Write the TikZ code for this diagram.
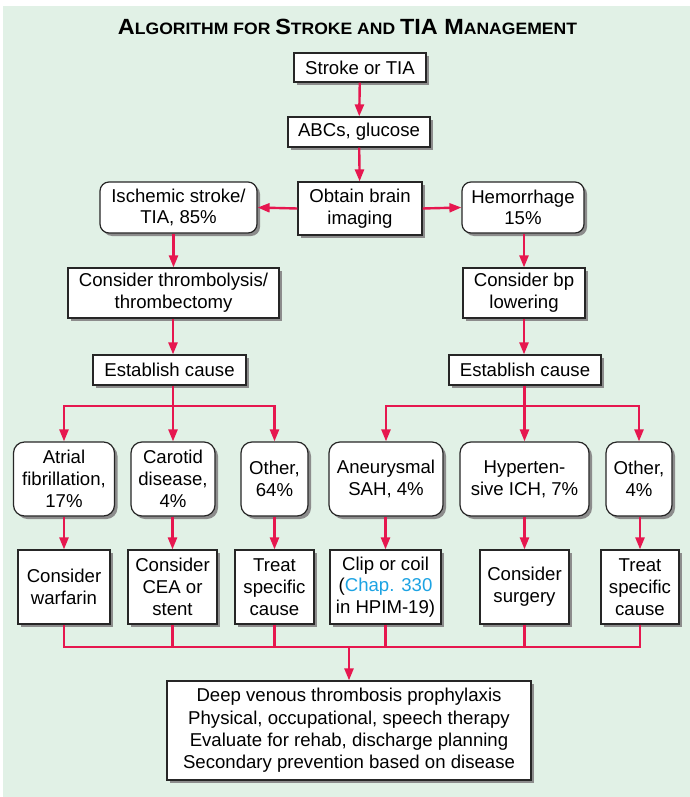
\documentclass[tikz,border=0pt]{standalone}
\usepackage{fontspec}
\setmainfont{Liberation Sans}
\usetikzlibrary{arrows.meta,shadows}
\definecolor{bg}{HTML}{E1F1E6}
\definecolor{arrred}{HTML}{E6174F}
\definecolor{chapblue}{HTML}{1CA3E3}
\tikzset{
  box/.style={draw=black!85, line width=1.2pt, fill=white, align=center, inner sep=0pt,
    font=\fontsize{18.6}{21.7}\selectfont,
    drop shadow={shadow xshift=3pt, shadow yshift=-3pt, fill=black!45, opacity=1}},
  rbox/.style={box, rounded corners=9pt},
  link/.style={draw=arrred, line width=2.4pt},
  arr/.style={link, -{Triangle[length=12pt,width=9pt]}},
}
\newcommand{\bigc}[1]{{\fontsize{22}{22}\selectfont #1}}
\newcommand{\smc}[1]{{\fontsize{16.5}{16.5}\selectfont #1}}
\begin{document}
\begin{tikzpicture}[x=1pt,y=-1pt]
\useasboundingbox (0,0) rectangle (690,797);
\fill[bg] (3,6) rectangle (690,797);
\node[anchor=base, inner sep=0pt, font=\bfseries] (title) at (347.5,35)
  {\resizebox{459pt}{\height}{\bigc{A}\smc{LGORITHM FOR }\bigc{S}\smc{TROKE AND }\bigc{TIA M}\smc{ANAGEMENT}}};

\node[box, minimum width=132pt, minimum height=29pt] (start) at (360,67.5) {Stroke or TIA};
\node[box, minimum width=142pt, minimum height=30pt] (abc) at (359,132) {ABCs, glucose};
\node[box, minimum width=124pt, minimum height=53pt] (img) at (360,208.5) {Obtain brain\\imaging};
\node[rbox, minimum width=157pt, minimum height=51pt] (isch) at (178.5,207.5) {Ischemic stroke/\\TIA, 85\%};
\node[rbox, minimum width=122pt, minimum height=51pt] (hem) at (523,207.5) {Hemorrhage\\15\%};
\node[box, minimum width=211pt, minimum height=50pt] (thr) at (173.5,293) {Consider thrombolysis/\\thrombectomy};
\node[box, minimum width=122pt, minimum height=50pt] (bp) at (524,293) {Consider bp\\lowering};
\node[box, minimum width=153pt, minimum height=30pt] (estL) at (169.5,370) {Establish cause};
\node[box, minimum width=152pt, minimum height=30pt] (estR) at (525,370) {Establish cause};

\tikzset{r1/.style={rbox, rounded corners=11pt, minimum height=74pt}, r2/.style={box, minimum height=74pt}}
\node[r1, minimum width=101pt] (a1) at (64,479) {Atrial\\fibrillation,\\17\%};
\node[r1, minimum width=84pt] (a2) at (173,479) {Carotid\\disease,\\4\%};
\node[r1, minimum width=67pt] (a3) at (274.5,479) {Other,\\64\%};
\node[r1, minimum width=114pt] (a4) at (386,479) {Aneurysmal\\SAH, 4\%};
\node[r1, minimum width=129pt] (a5) at (524.5,479) {Hyperten-\\sive ICH, 7\%};
\node[r1, minimum width=66pt] (a6) at (639,479) {Other,\\4\%};

\node[r2, minimum width=92pt] (b1) at (64,587) {Consider\\warfarin};
\node[r2, minimum width=89pt] (b2) at (172.5,587) {Consider\\CEA or\\stent};
\node[r2, minimum width=79pt] (b3) at (274.5,587) {Treat\\specific\\cause};
\node[r2, minimum width=111pt] (b4) at (385.5,587) {Clip or coil\\(\textcolor{chapblue}{Chap. 330}\\in HPIM-19)};
\node[r2, minimum width=89pt] (b5) at (524.5,587) {Consider\\surgery};
\node[r2, minimum width=78pt] (b6) at (640,587) {Treat\\specific\\cause};

\node[box, minimum width=364pt, minimum height=99pt, font=\fontsize{18.6}{22.3}\selectfont] (fin) at (349,730.5)
  {Deep venous thrombosis prophylaxis\\Physical, occupational, speech therapy\\Evaluate for rehab, discharge planning\\Secondary prevention based on disease};

% connectors
\draw[arr] (start) -- (abc);
\draw[arr] (abc) -- (img);
\draw[arr] (img.west) -- (isch.east);
\draw[arr] (img.east) -- (hem.west);
\draw[arr] (isch.south -| thr.north) -- (thr.north);
\draw[arr] (hem.south -| bp.north) -- (bp.north);
\draw[arr] (thr.south -| a2.north) -- (estL.north -| a2.north);
\draw[arr] (bp.south) -- (estR.north -| bp.south);

\coordinate (brL) at (173,406);
\coordinate (brR) at (524.5,406);
\draw[link] (estL.south -| brL) -- (brL);
\draw[link] (estR.south -| brR) -- (brR);
\draw[link, line cap=rect] (a1.north |- brL) -- (a3.north |- brL);
\draw[link, line cap=rect] (a4.north |- brR) -- (a6.north |- brR);
\foreach \n in {a1,a2,a3}{\draw[arr] (\n.north |- brL) -- (\n.north);}
\foreach \n in {a4,a5,a6}{\draw[arr] (\n.north |- brR) -- (\n.north);}

\foreach \a/\b in {a1/b1,a2/b2,a3/b3,a4/b4,a5/b5,a6/b6}{\draw[arr] (\a.south -| \b.north) -- (\b.north);}

\coordinate (collect) at (349,647);
\foreach \n in {b1,b2,b3,b4,b5,b6}{\draw[link] (\n.south) -- (\n.south |- collect);}
\draw[link, line cap=rect] (b1.south |- collect) -- (b6.south |- collect);
\draw[arr] (collect) -- (fin.north);
\end{tikzpicture}
\end{document}
